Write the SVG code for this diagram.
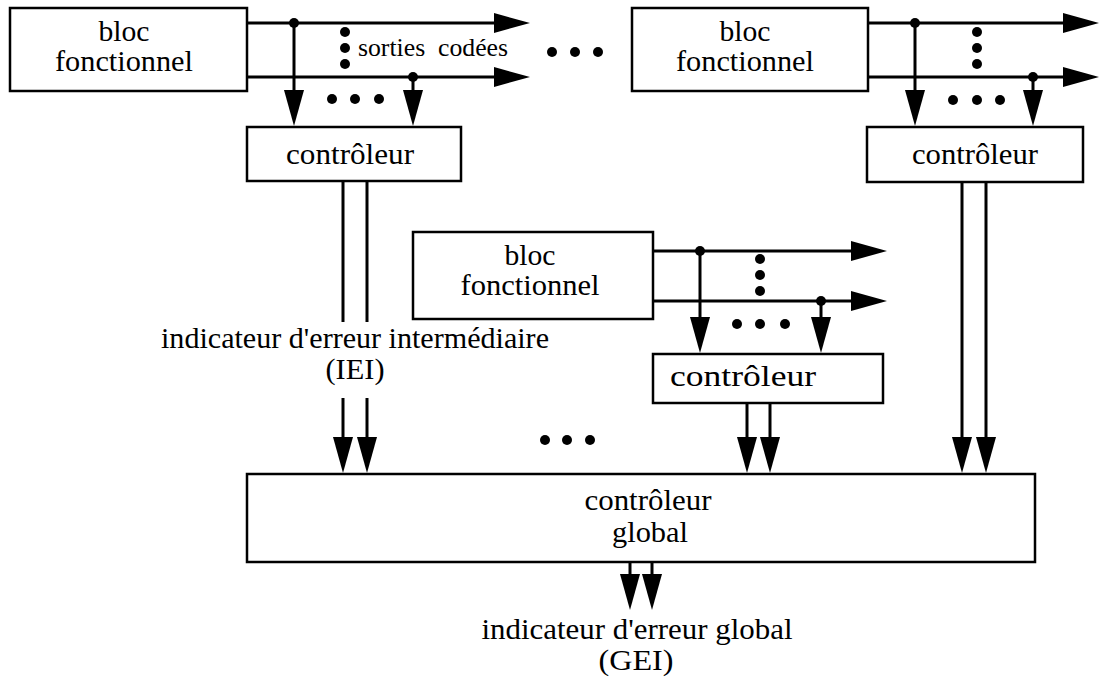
<svg xmlns="http://www.w3.org/2000/svg" width="1101" height="677" viewBox="0 0 1101 677">
<style>
.box{fill:#fff;stroke:#000;stroke-width:2.5}
.ln{fill:none;stroke:#000;stroke-width:3;marker-end:url(#ah)}
.pl{fill:none;stroke:#000;stroke-width:3}
.t{font-family:"Liberation Serif","Times New Roman",serif;font-size:30px;fill:#000;text-anchor:middle}
.s{font-family:"Liberation Serif","Times New Roman",serif;font-size:25px;fill:#000}
.d{fill:#000}
</style>
<defs>
<marker id="ah" markerUnits="userSpaceOnUse" markerWidth="36" markerHeight="20" refX="2" refY="10" orient="auto" viewBox="0 0 36 20">
<path d="M0,0 L36,10 L0,20 z" fill="#000"/>
</marker>
</defs>
<rect width="1101" height="677" fill="#fff"/>

<g id="connectors">
<path class="ln" d="M247,23 H496"/>
<path class="ln" d="M247,77 H496"/>
<path class="ln" d="M294,23 V92"/>
<path class="ln" d="M413,77 V92"/>
<path class="ln" d="M868,23 H1065"/>
<path class="ln" d="M868,77 H1065"/>
<path class="ln" d="M915,23 V92"/>
<path class="ln" d="M1033,77 V92"/>
<path class="ln" d="M653,251 H853"/>
<path class="ln" d="M653,301 H853"/>
<path class="ln" d="M700,251 V319"/>
<path class="ln" d="M821,301 V319"/>
<path class="pl" d="M343,181 V322 M367,181 V322"/>
<path class="ln" d="M343,398 V439"/>
<path class="ln" d="M367,398 V439"/>
<path class="ln" d="M747,403 V439"/>
<path class="ln" d="M770,403 V439"/>
<path class="ln" d="M962,182 V439"/>
<path class="ln" d="M986,182 V439"/>
<path class="ln" d="M630,562 V576"/>
<path class="ln" d="M652,562 V576"/>
<circle class="d" cx="294" cy="23" r="5"/>
<circle class="d" cx="413" cy="77" r="5"/>
<circle class="d" cx="915" cy="23" r="5"/>
<circle class="d" cx="1033" cy="77" r="5"/>
<circle class="d" cx="700" cy="251" r="5"/>
<circle class="d" cx="821" cy="301" r="5"/>
</g>

<g id="ellipses">
<circle class="d" cx="345" cy="32" r="5"/><circle class="d" cx="345" cy="48" r="5"/><circle class="d" cx="345" cy="64" r="5"/>
<circle class="d" cx="332" cy="99" r="5"/><circle class="d" cx="355" cy="99" r="5"/><circle class="d" cx="379" cy="99" r="5"/>
<circle class="d" cx="552" cy="52" r="5"/><circle class="d" cx="575" cy="52" r="5"/><circle class="d" cx="598" cy="52" r="5"/>
<circle class="d" cx="977" cy="32" r="5"/><circle class="d" cx="977" cy="48" r="5"/><circle class="d" cx="977" cy="64" r="5"/>
<circle class="d" cx="953" cy="100" r="5"/><circle class="d" cx="977" cy="100" r="5"/><circle class="d" cx="1000" cy="100" r="5"/>
<circle class="d" cx="760" cy="259" r="5"/><circle class="d" cx="760" cy="275" r="5"/><circle class="d" cx="760" cy="291" r="5"/>
<circle class="d" cx="737" cy="324" r="5"/><circle class="d" cx="760" cy="324" r="5"/><circle class="d" cx="785" cy="324" r="5"/>
<circle class="d" cx="545" cy="440" r="5"/><circle class="d" cx="567" cy="440" r="5"/><circle class="d" cx="590" cy="440" r="5"/>
<text class="s" x="358" y="56" textLength="150" lengthAdjust="spacingAndGlyphs" xml:space="preserve">sorties  codées</text>
</g>

<g id="bloc1">
<rect class="box" x="10" y="8" width="237" height="83"/>
<text class="t" x="124" y="41" textLength="51" lengthAdjust="spacingAndGlyphs">bloc</text>
<text class="t" x="124" y="71" textLength="138" lengthAdjust="spacingAndGlyphs">fonctionnel</text>
</g>

<g id="bloc2">
<rect class="box" x="632" y="8" width="236" height="83"/>
<text class="t" x="745" y="41" textLength="51" lengthAdjust="spacingAndGlyphs">bloc</text>
<text class="t" x="745" y="71" textLength="138" lengthAdjust="spacingAndGlyphs">fonctionnel</text>
</g>

<g id="bloc3">
<rect class="box" x="413" y="232" width="240" height="87"/>
<text class="t" x="530" y="265" textLength="51" lengthAdjust="spacingAndGlyphs">bloc</text>
<text class="t" x="530" y="295" textLength="139" lengthAdjust="spacingAndGlyphs">fonctionnel</text>
</g>

<g id="controleur1">
<rect class="box" x="247" y="127" width="214" height="54"/>
<text class="t" x="350" y="164" textLength="128" lengthAdjust="spacingAndGlyphs">contrôleur</text>
</g>

<g id="controleur2">
<rect class="box" x="867" y="127" width="216" height="55"/>
<text class="t" x="975" y="164" textLength="126" lengthAdjust="spacingAndGlyphs">contrôleur</text>
</g>

<g id="controleur3">
<rect class="box" x="653" y="354" width="230" height="49"/>
<text class="t" x="743" y="386" textLength="146" lengthAdjust="spacingAndGlyphs">contrôleur</text>
</g>

<g id="controleur-global">
<rect class="box" x="247" y="474" width="788" height="88"/>
<text class="t" x="648" y="510" textLength="127" lengthAdjust="spacingAndGlyphs">contrôleur</text>
<text class="t" x="650" y="542" textLength="76" lengthAdjust="spacingAndGlyphs">global</text>
</g>

<g id="label-IEI">
<text class="t" x="355" y="348" textLength="388" lengthAdjust="spacingAndGlyphs">indicateur d'erreur intermédiaire</text>
<text class="t" x="355" y="379" textLength="59" lengthAdjust="spacingAndGlyphs">(IEI)</text>
</g>

<g id="label-GEI">
<text class="t" x="637" y="639" textLength="311" lengthAdjust="spacingAndGlyphs">indicateur d'erreur global</text>
<text class="t" x="636" y="670" textLength="75" lengthAdjust="spacingAndGlyphs">(GEI)</text>
</g>
</svg>
